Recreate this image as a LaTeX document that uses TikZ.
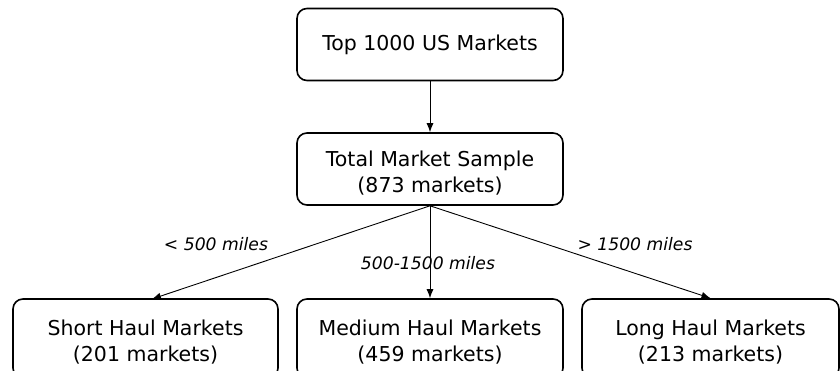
\documentclass[tikz,border=0pt]{standalone}
\usepackage{fontspec}
\setmainfont{DejaVu Sans}
\usetikzlibrary{arrows.meta}
\newcommand{\lowerstrut}{\rule{0pt}{23.5pt}}
\begin{document}
\begin{tikzpicture}[x=1pt,y=1pt,
  box/.style={draw=black, line width=1.6pt, rounded corners=10pt, align=center,
    font=\fontsize{20.5}{26}\selectfont, inner sep=0pt, minimum height=72pt},
  conn/.style={draw=black, line width=0.9pt, -{Latex[length=9pt,width=7pt]}},
  lbl/.style={font=\fontsize{17.2}{20}\selectfont\itshape, inner sep=0pt}]
\useasboundingbox (0,0) rectangle (840,371);
\begin{scope}
\clip (0,0) rectangle (840,371);
\node[box, minimum width=266pt] (top) at (430,326.5) {Top 1000 US Markets};
\node[box, minimum width=266pt] (mid) at (430,202) {\lowerstrut Total Market Sample\\(873 markets)};
\node[box, minimum width=265pt, minimum height=79pt] (short) at (145.5,32.5) {\lowerstrut Short Haul Markets\\(201 markets)};
\node[box, minimum width=266pt, minimum height=79pt] (medium) at (430,32.5) {\lowerstrut Medium Haul Markets\\(459 markets)};
\node[box, minimum width=257pt, minimum height=79pt] (long) at (710.5,32.5) {\lowerstrut Long Haul Markets\\(213 markets)};
\coordinate (shortin) at (152,72);
\draw[conn] (top.south) -- (mid.north);
\draw[conn] (mid.south) -- (shortin);
\draw[conn] (mid.south) -- (medium.north);
\draw[conn] (mid.south) -- (long.north);
\node[lbl] (l1) at (216,127) {< 500 miles};
\node[lbl] (l2) at (428,108) {500-1500 miles};
\node[lbl] (l3) at (635,127) {> 1500 miles};
\end{scope}
\end{tikzpicture}
\end{document}
